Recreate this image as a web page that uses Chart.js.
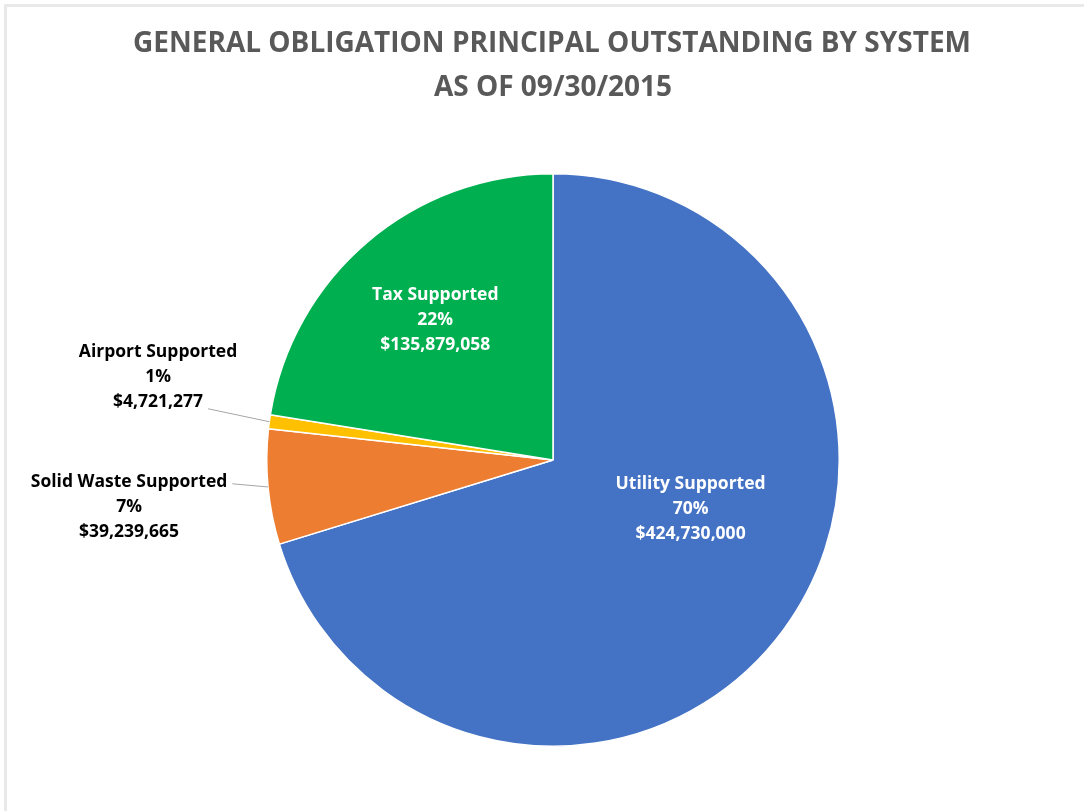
<!DOCTYPE html>
<html>
<head>
<meta charset="utf-8">
<script src="https://cdn.jsdelivr.net/npm/chart.js@4/dist/chart.umd.min.js"></script>
<style>
  html, body { margin: 0; padding: 0; background: #fff; }
  #frame {
    position: absolute; left: 4px; top: 4px; width: 1080px; height: 807px;
    border-left: 3px solid #e9e9e9; border-top: 3px solid #e9e9e9;
    box-sizing: border-box;
  }
  canvas { position: absolute; left: 0; top: 0; }
</style>
</head>
<body>
<div id="frame"></div>
<canvas id="chart" width="1084" height="811"></canvas>
<script>
// series, clockwise from 12 o'clock
const systems = ['Utility Supported', 'Solid Waste Supported', 'Airport Supported', 'Tax Supported'];
const principal = [424730000, 39239665, 4721277, 135879058];
const pctText = ['70%', '7%', '1%', '22%'];
const sliceColors = ['#4472C4', '#ED7D31', '#FFC000', '#00B050'];

const titleLines = ['GENERAL OBLIGATION PRINCIPAL OUTSTANDING BY SYSTEM', 'AS OF 09/30/2015'];

// where each data label sits: polar offset from the pie centre (deg clockwise from top, r in radii)
const labelPlace = [
  { inside: true, deg: 109.5, r: 0.51 },
  { inside: false, deg: 263.7, r: 1.49, leaderFrom: 0, leaderDy: 2 },
  { inside: false, deg: 281.9, r: 1.41, leaderFrom: 2, leaderDy: 7 },
  { inside: true, deg: 320, r: 0.64 },
];

const FONT = '"Open Sans", "DejaVu Sans", sans-serif';
const fmtMoney = (v) => '$' + v.toLocaleString('en-US');

const titlePlugin = {
  id: 'twoLineTitle',
  afterDraw(chart) {
    const { ctx } = chart;
    ctx.save();
    ctx.fillStyle = '#595959';
    ctx.font = `bold 28px ${FONT}`;
    ctx.textAlign = 'center';
    ctx.textBaseline = 'middle';
    ctx.fillText(titleLines[0], 552, 44);
    ctx.fillText(titleLines[1], 553, 88);
    ctx.restore();
  },
};

const sliceLabels = {
  id: 'sliceLabels',
  afterDatasetsDraw(chart) {
    const { ctx } = chart;
    const arcs = chart.getDatasetMeta(0).data;
    ctx.save();
    ctx.font = `bold 17.5px ${FONT}`;
    ctx.textAlign = 'center';
    ctx.textBaseline = 'middle';
    const lh = 25;
    arcs.forEach((arc, i) => {
      const { x: cx, y: cy, outerRadius: R, startAngle, endAngle } =
        arc.getProps(['x', 'y', 'outerRadius', 'startAngle', 'endAngle'], true);
      const p = labelPlace[i];
      const a = (p.deg - 90) * Math.PI / 180;
      const lx = cx + Math.cos(a) * p.r * R;
      const ly = cy + Math.sin(a) * p.r * R;
      const lines = [systems[i], pctText[i], fmtMoney(principal[i])];
      ctx.fillStyle = p.inside ? '#ffffff' : '#000000';
      lines.forEach((t, k) => ctx.fillText(t, lx, ly + (k - 1) * lh));
      if (!p.inside) {
        // leader from the end of one text line to the slice edge at its mid angle
        const k = p.leaderFrom;
        const w = ctx.measureText(lines[k]).width;
        const sx = lx + w / 2 + 5;
        const sy = ly + (k - 1) * lh + p.leaderDy;
        const mid = (startAngle + endAngle) / 2;
        ctx.strokeStyle = '#a6a6a6';
        ctx.lineWidth = 1;
        ctx.beginPath();
        ctx.moveTo(sx, sy);
        ctx.lineTo(cx + Math.cos(mid) * R, cy + Math.sin(mid) * R);
        ctx.stroke();
      }
    });
    ctx.restore();
  },
};

new Chart(document.getElementById('chart'), {
  type: 'pie',
  data: {
    labels: systems,
    datasets: [{
      data: principal,
      backgroundColor: sliceColors,
      borderColor: '#ffffff',
      borderWidth: 1.5,
    }],
  },
  options: {
    responsive: false,
    animation: false,
    layout: { padding: { top: 173, bottom: 64, left: 266, right: 244 } },
    plugins: { legend: { display: false }, tooltip: { enabled: false }, title: { display: false } },
  },
  plugins: [titlePlugin, sliceLabels],
});
</script>
</body>
</html>
